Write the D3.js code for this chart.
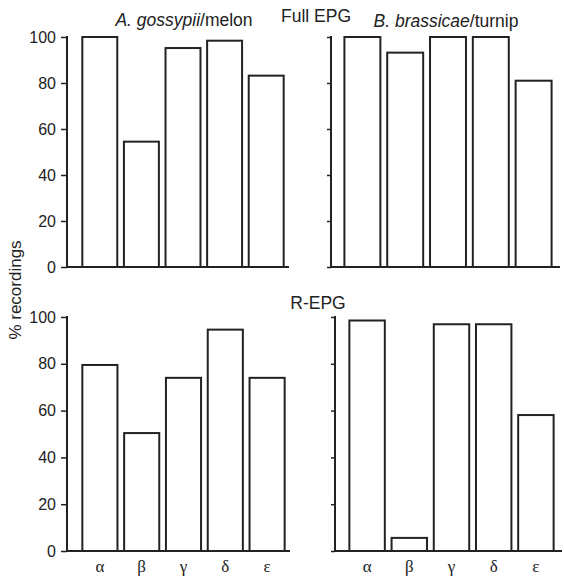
<!DOCTYPE html>
<html>
<head>
<meta charset="utf-8">
<script src="https://cdn.jsdelivr.net/npm/d3@7"></script>
<style>
  body { margin: 0; background: #fff; }
  svg text { font-family: "Liberation Sans", Arial, sans-serif; fill: #222; }
  .greek { font-family: "Liberation Serif", "Times New Roman", serif; }
</style>
</head>
<body>
<div id="chart"></div>
<script>
// Data
const categories = ['α', 'β', 'γ', 'δ', 'ε'];
const fullMelon = [100, 54.5, 95.2, 98.4, 83.2];
const fullTurnip = [100, 93.2, 100, 100, 81];
const rMelon = [79.5, 50.4, 74, 94.6, 74];
const rTurnip = [98.5, 5.6, 96.9, 96.9, 58.1];
const yTicks = [0, 20, 40, 60, 80, 100];

const width = 564, height = 578;
const ink = '#222';

const svg = d3.select('#chart').append('svg')
    .attr('width', width)
    .attr('height', height);

// Panel layout: axis position, band range, vertical range
const panels = [
    { values: fullMelon,  axisX: 67,  bands: [79, 287],  y: [267, 37],  xEnd: 289, labels: true,  greek: false },
    { values: fullTurnip, axisX: 331, bands: [341, 555], y: [267, 37],  xEnd: 560, labels: false, greek: false },
    { values: rMelon,     axisX: 67,  bands: [79, 288],  y: [551, 317], xEnd: 290, labels: true,  greek: true },
    { values: rTurnip,    axisX: 335, bands: [346, 557], y: [551, 317], xEnd: 562, labels: false, greek: true }
];

panels.forEach(p => {
    const x = d3.scaleBand()
        .domain(categories)
        .range(p.bands)
        .paddingInner(0.16)
        .paddingOuter(0.08);

    const y = d3.scaleLinear()
        .domain([0, 100])
        .range(p.y);

    const g = svg.append('g');

    // Bars
    g.selectAll('rect')
        .data(p.values)
        .enter()
        .append('rect')
        .attr('x', (d, i) => x(categories[i]))
        .attr('y', d => y(d))
        .attr('width', x.bandwidth())
        .attr('height', d => y(0) - y(d))
        .attr('fill', '#fff')
        .attr('stroke', ink)
        .attr('stroke-width', 2);

    // Y axis
    const yAxis = d3.axisLeft(y)
        .tickValues(yTicks)
        .tickSize(p.labels ? 6 : 4)
        .tickPadding(5)
        .tickFormat(p.labels ? d3.format('d') : () => '');

    const ya = g.append('g')
        .attr('transform', `translate(${p.axisX},0)`)
        .call(yAxis);
    ya.select('.domain').remove();
    ya.append('line')
        .attr('x1', 0).attr('x2', 0)
        .attr('y1', y(100) - 1).attr('y2', y(0))
        .attr('stroke', ink)
        .attr('stroke-width', 2);
    ya.selectAll('.tick line').attr('stroke', ink).attr('stroke-width', 1.5);
    ya.selectAll('.tick text')
        .style('font-size', '16px')
        .attr('fill', ink);

    // Baseline
    g.append('line')
        .attr('x1', p.axisX - 1)
        .attr('x2', p.xEnd)
        .attr('y1', y(0))
        .attr('y2', y(0))
        .attr('stroke', ink)
        .attr('stroke-width', 2);

    // Greek category labels under the bottom row
    if (p.greek) {
        g.selectAll('.greek')
            .data(categories)
            .enter()
            .append('text')
            .attr('class', 'greek')
            .attr('x', d => x(d) + x.bandwidth() / 2)
            .attr('y', 572)
            .attr('text-anchor', 'middle')
            .style('font-size', '17px')
            .text(d => d);
    }
});

// Titles
const title = svg.append('text')
    .attr('x', 184)
    .attr('y', 26)
    .attr('text-anchor', 'middle')
    .style('font-size', '17.5px');
title.append('tspan').style('font-style', 'italic').text('A. gossypii');
title.append('tspan').text('/melon');

svg.append('text')
    .attr('x', 316)
    .attr('y', 22)
    .attr('text-anchor', 'middle')
    .style('font-size', '17.5px')
    .text('Full EPG');

const title2 = svg.append('text')
    .attr('x', 446)
    .attr('y', 27)
    .attr('text-anchor', 'middle')
    .style('font-size', '17.5px');
title2.append('tspan').style('font-style', 'italic').text('B. brassicae');
title2.append('tspan').text('/turnip');

svg.append('text')
    .attr('x', 318)
    .attr('y', 309)
    .attr('text-anchor', 'middle')
    .style('font-size', '17.5px')
    .text('R-EPG');

// Y axis label
svg.append('text')
    .attr('transform', 'translate(21,290) rotate(-90)')
    .attr('text-anchor', 'middle')
    .style('font-size', '17px')
    .text('% recordings');
</script>
</body>
</html>
